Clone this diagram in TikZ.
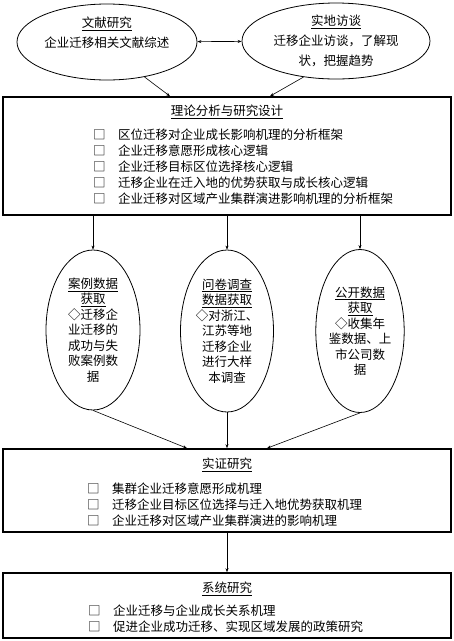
\documentclass[tikz,border=0pt]{standalone}
\usepackage{fontspec}
\newfontfamily\cjk{Noto Sans CJK SC}
\usetikzlibrary{arrows.meta, shapes.geometric, calc}
\newcommand{\sqitem}{\makebox[25pt][l]{□}}

\begin{document}
\begin{tikzpicture}[x=1pt, y=1pt, font=\cjk\fontsize{12.5}{15.5}\selectfont,
  oval/.style={draw, ellipse, line width=0.8pt, inner sep=0pt, align=center},
  topoval/.style={oval, minimum height=76pt, font=\cjk\fontsize{12.5}{20}\selectfont},
  bigbox/.style={draw, rectangle, line width=1.6pt, minimum width=448pt},
  items/.style={align=left, inner sep=0pt, anchor=north west, font=\cjk\fontsize{12.5}{16}\selectfont},
  arr/.style={-{Stealth[length=4pt, width=3pt]}, line width=0.6pt}]
\useasboundingbox (0,0) rectangle (454,-641);
\node[topoval, minimum width=180pt] (wxyj) at (107,-42) {\underline{文献研究}\\企业迁移相关文献综述\\\mbox{}};
\node[topoval, minimum width=188pt] (sdft) at (336,-41) {\underline{实地访谈}\\迁移企业访谈，了解现\\状，把握趋势};
\node[bigbox, minimum height=118pt] (llfx) at (227,-156) {};
\node (llfx-t) at ([yshift=-16pt]llfx.north) {\underline{理论分析与研究设计}};
\node[items] (llfx-i) at (93,-129) {\sqitem 区位迁移对企业成长影响机理的分析框架\\\sqitem 企业迁移意愿形成核心逻辑\\\sqitem 企业迁移目标区位选择核心逻辑\\\sqitem 迁移企业在迁入地的优势获取与成长核心逻辑\\\sqitem 企业迁移对区域产业集群演进影响机理的分析框架};
\node[oval, minimum width=94pt, minimum height=160pt] (alsj) at (93,-330) {\underline{案例数据}\\\underline{获取}\\◇迁移企\\业迁移的\\成功与失\\败案例数\\据};
\node[oval, minimum width=93pt, minimum height=162pt] (wjdc) at (227,-331) {\underline{问卷调查}\\\underline{数据获取}\\◇对浙江、\\江苏等地\\迁移企业\\进行大样\\本调查};
\node[oval, minimum width=86pt, minimum height=163pt] (gksj) at (360,-331) {\underline{公开数据}\\\underline{获取}\\◇收集年\\鉴数据、上\\市公司数\\据};
\node[bigbox, minimum height=83pt] (szyj) at (227,-490.5) {};
\node (szyj-t) at ([yshift=-17pt]szyj.north) {\underline{实证研究}};
\node[items] (szyj-i) at (87,-483) {\sqitem 集群企业迁移意愿形成机理\\\sqitem 迁移企业目标区位选择与迁入地优势获取机理\\\sqitem 企业迁移对区域产业集群演进的影响机理};
\node[bigbox, minimum height=65pt] (xtyj) at (227,-605.5) {};
\node (xtyj-t) at ([yshift=-17pt]xtyj.north) {\underline{系统研究}};
\node[items] (xtyj-i) at (88,-605) {\sqitem 企业迁移与企业成长关系机理\\\sqitem 促进企业成功迁移、实现区域发展的政策研究};
\draw[{Stealth[length=4pt, width=3pt]}-{Stealth[length=4pt, width=3pt]}, line width=0.6pt] (wxyj) -- (sdft);
\draw[arr] (wxyj.-43) -- ($(llfx.north)+(-57,0)$);
\draw[arr] (sdft.-132) -- ($(llfx.north)+(43,0)$);
\foreach \e in {alsj, wjdc, gksj}
  \draw[arr] (llfx.south -| \e.north) -- (\e.north);
\draw[arr] (alsj.south) -- ($(szyj.north)+(-40,0)$);
\draw[arr] (wjdc.south) -- (szyj.north);
\draw[arr] (gksj.south) -- ($(szyj.north)+(40,0)$);
\draw[arr] (szyj.south) -- (xtyj.north);
\end{tikzpicture}
\end{document}
